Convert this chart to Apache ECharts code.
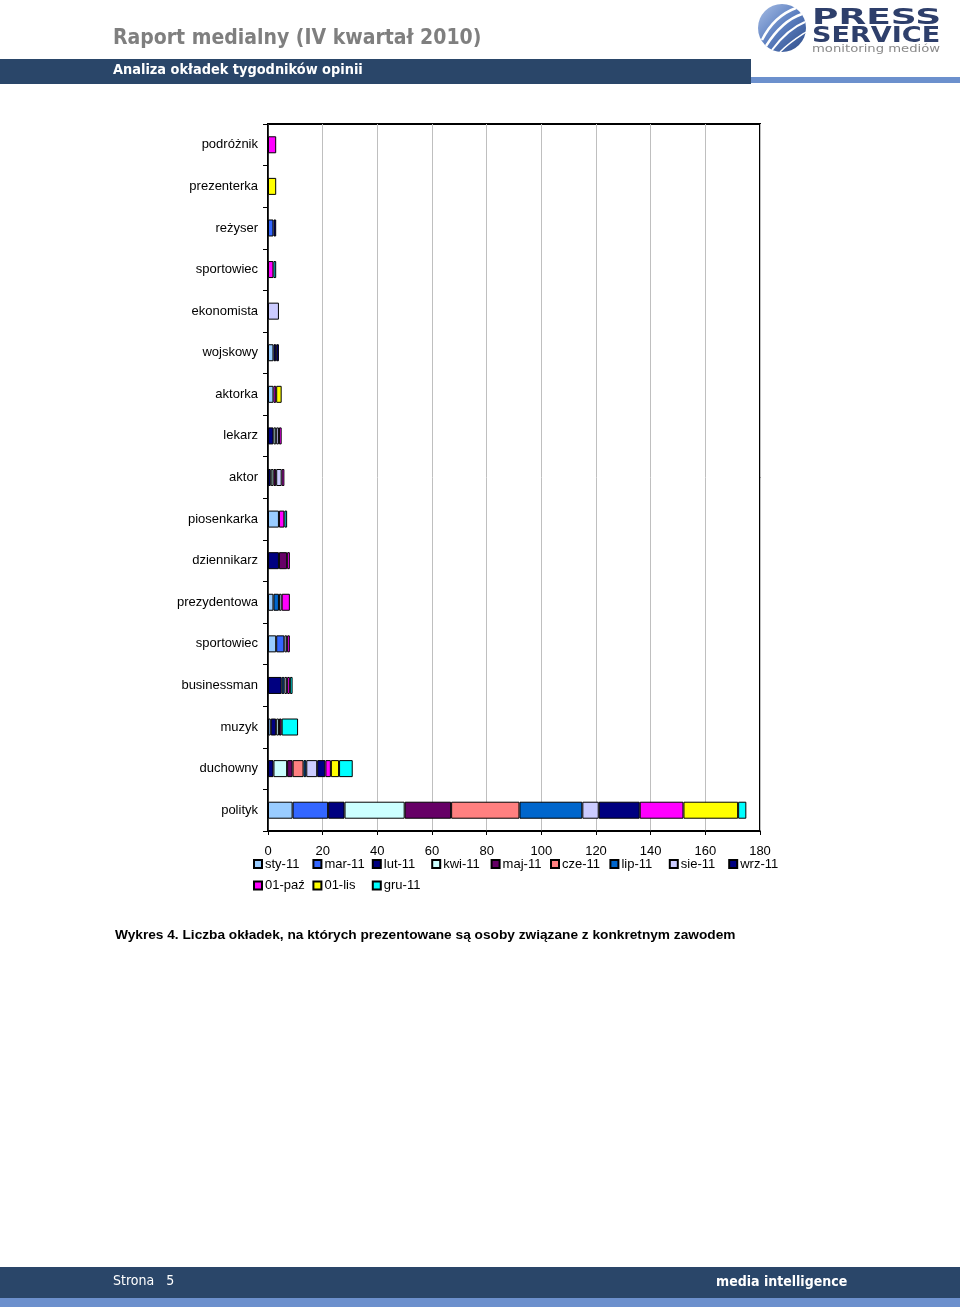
<!DOCTYPE html>
<html>
<head>
<meta charset="utf-8">
<script src="https://cdn.jsdelivr.net/npm/echarts@6/dist/echarts.min.js"></script>
<style>html,body{margin:0;padding:0;background:#fff;}#c{width:960px;height:1314px;}</style>
</head>
<body>
<div id="c"></div>
<script>
var categories = ['podróżnik','prezenterka','reżyser','sportowiec','ekonomista','wojskowy','aktorka','lekarz','aktor','piosenkarka','dziennikarz','prezydentowa','sportowiec','businessman','muzyk','duchowny','polityk'];
var seriesNames = ['sty-11','mar-11','lut-11','kwi-11','maj-11','cze-11','lip-11','sie-11','wrz-11','01-paź','01-lis','gru-11'];
var sty = [0,0,0,0,0,2,2,0,0,4,0,2,3,0,1,0,9];
var mar = [0,0,2,0,0,0,0,0,0,0,0,0,3,0,0,0,13];
var lut = [0,0,1,0,0,1,0,2,1,0,4,0,0,5,2,2,6];
var kwi = [0,0,0,0,0,0,0,1,1,0,0,0,0,0,1,5,22];
var maj = [0,0,0,0,0,0,0,0,1,0,3,0,0,0,1,2,17];
var cze = [0,0,0,0,0,0,0,0,0,0,0,0,0,0,0,4,25];
var lip = [0,0,0,0,0,0,0,0,0,0,0,2,0,1,0,1,23];
var sie = [0,0,0,0,4,0,0,1,2,0,0,1,1,1,0,4,6];
var wrz = [0,0,0,0,0,1,0,0,0,0,0,0,0,0,0,3,15];
var paz = [3,0,0,2,0,0,1,1,1,2,1,3,1,1,0,2,16];
var lis = [0,3,0,0,0,0,2,0,0,0,0,0,0,0,0,3,20];
var gru = [0,0,0,1,0,0,0,0,0,1,0,0,0,1,6,5,3];
var xTicks = {min: 0, max: 180, interval: 20};
var seriesData = [sty, mar, lut, kwi, maj, cze, lip, sie, wrz, paz, lis, gru];
var colors = ['#99CCFF','#3366FF','#000080','#CCFFFF','#660066','#FF8080','#0066CC','#CCCCFF','#000080','#FF00FF','#FFFF00','#00FFFF'];

var FONT = '"Liberation Sans", Arial, sans-serif';
var chart = echarts.init(document.getElementById('c'), null, {renderer: 'canvas', width: 960, height: 1314});

var series = seriesNames.map(function (n, i) {
  return {
    name: n,
    type: 'bar',
    stack: 'total',
    barWidth: 17,
    itemStyle: {color: colors[i], borderColor: '#000', borderWidth: 1},
    emphasis: {disabled: true},
    data: seriesData[i].map(function (v) { return v === 0 ? null : v; })
  };
});

var option = {
  animation: false,
  backgroundColor: '#fff',
  grid: {left: 268, top: 124, width: 492, height: 707, show: true, borderColor: '#000', borderWidth: 2, backgroundColor: 'transparent'},
  xAxis: {
    type: 'value', min: xTicks.min, max: xTicks.max, interval: xTicks.interval,
    axisLine: {show: true, lineStyle: {color: '#000', width: 1.5}},
    axisTick: {show: true, length: 4, lineStyle: {color: '#000'}},
    splitLine: {show: true, lineStyle: {color: '#BFBFBF', width: 1}},
    axisLabel: {color: '#000', fontSize: 13, fontFamily: FONT, margin: 14}
  },
  yAxis: {
    type: 'category', data: categories, inverse: true,
    axisLine: {show: true, lineStyle: {color: '#000', width: 1.5}},
    axisTick: {show: true, length: 5, lineStyle: {color: '#000'}},
    axisLabel: {color: '#000', fontSize: 13, fontFamily: FONT, margin: 10}
  },
  legend: {
    left: 248, top: 851, width: 550,
    orient: 'horizontal',
    itemWidth: 8, itemHeight: 8, itemGap: 5.4,
    icon: 'rect',
    selectedMode: false,
    textStyle: {color: '#000', fontSize: 13, fontFamily: FONT, width: 42, lineHeight: 16, padding: [0,0,0,-2]},
    data: seriesNames
  },
  series: series,
  graphic: [
    {type: 'text', left: 113, top: 28, style: {text: 'Raport medialny (IV kwartał 2010)', fill: '#7F7F7F', font: 'bold 21px "DejaVu Sans Condensed", "DejaVu Sans", sans-serif'}},
    {type: 'rect', shape: {x: 0, y: 59, width: 751, height: 25}, style: {fill: '#2A4669'}},
    {type: 'rect', shape: {x: 751, y: 77, width: 209, height: 6}, style: {fill: '#6C90CD'}},
    {type: 'text', left: 113, top: 63, style: {text: 'Analiza okładek tygodników opinii', fill: '#fff', font: 'bold 14.4px "DejaVu Sans Condensed", "DejaVu Sans", sans-serif'}},
    {type: 'circle', shape: {cx: 782, cy: 28, r: 24}, style: {fill: new echarts.graphic.LinearGradient(0, 0, 1, 1, [{offset: 0, color: '#A9BFE6'}, {offset: 0.5, color: '#5C7FC0'}, {offset: 1, color: '#2C4A86'}])}},
    {type: 'bezierCurve', shape: {x1: 762, y1: 40, x2: 796, y2: 8, cpx1: 772, cpy1: 20, cpx2: 785, cpy2: 12}, style: {stroke: '#fff', lineWidth: 2.5, fill: null}},
    {type: 'bezierCurve', shape: {x1: 766, y1: 46, x2: 802, y2: 14, cpx1: 778, cpy1: 27, cpx2: 790, cpy2: 18}, style: {stroke: '#fff', lineWidth: 2.5, fill: null}},
    {type: 'bezierCurve', shape: {x1: 772, y1: 50, x2: 805, y2: 22, cpx1: 784, cpy1: 34, cpx2: 795, cpy2: 26}, style: {stroke: '#fff', lineWidth: 2, fill: null}},
    {type: 'bezierCurve', shape: {x1: 780, y1: 52, x2: 806, y2: 32, cpx1: 790, cpy1: 42, cpx2: 800, cpy2: 36}, style: {stroke: '#fff', lineWidth: 1.5, fill: null}},
    {type: 'text', x: 812, y: 7, scaleX: 1.64, style: {text: 'PRESS', fill: '#2E3F6B', font: '900 22px "DejaVu Sans", sans-serif'}},
    {type: 'text', x: 812, y: 25, scaleX: 1.23, style: {text: 'SERVICE', fill: '#2E3F6B', font: '900 22px "DejaVu Sans", sans-serif'}},
    {type: 'text', x: 812, y: 44, scaleX: 1.32, style: {text: 'monitoring mediów', fill: '#8A8A8A', font: '10px "DejaVu Sans", sans-serif'}},
    {type: 'text', left: 115, top: 928, style: {text: 'Wykres 4. Liczba okładek, na których prezentowane są osoby związane z konkretnym zawodem', fill: '#000', font: 'bold 13.7px "Liberation Sans", Arial, sans-serif'}},
    {type: 'rect', shape: {x: 0, y: 1267, width: 960, height: 31}, style: {fill: '#2A4669'}},
    {type: 'rect', shape: {x: 0, y: 1298, width: 960, height: 9}, style: {fill: '#6C90CD'}},
    {type: 'text', left: 113, top: 1274, style: {text: 'Strona   5', fill: '#fff', font: '14px "DejaVu Sans Condensed", "DejaVu Sans", sans-serif'}},
    {type: 'text', left: 716, top: 1275, style: {text: 'media intelligence', fill: '#fff', font: 'bold 14px "DejaVu Sans Condensed", "DejaVu Sans", sans-serif'}}
  ]
};
chart.setOption(option);
</script>
</body>
</html>
